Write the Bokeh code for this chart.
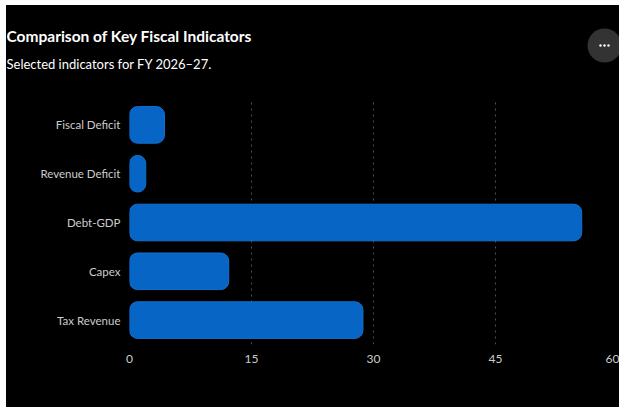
from bokeh.plotting import figure
from bokeh.models import ColumnDataSource, Range1d, FactorRange, FixedTicker
from bokeh.layouts import column
from bokeh.core.properties import value
from bokeh.embed import file_html
from bokeh.resources import INLINE

indicators = ["Fiscal Deficit", "Revenue Deficit", "Debt-GDP", "Capex", "Tax Revenue"]
values = [4.3, 2.0, 55.6, 12.2, 28.7]
x_ticks = [0, 15, 30, 45, 60]

title_text = "Comparison of Key Fiscal Indicators"
subtitle_text = "Selected indicators for FY 2026\u201327."

FONT = "Lato"

# ---- header (title, subtitle, menu button) ----
h = figure(width=613, height=95, x_range=Range1d(0, 613), y_range=Range1d(95, 0),
           output_backend="svg", toolbar_location=None, title=None, min_border=0)
h.frame_align = False
h.background_fill_color = "#000000"
h.border_fill_color = "#000000"
h.outline_line_color = None
h.axis.visible = False
h.grid.visible = False
h.text(x=[0], y=[30], text=[title_text], text_color="#ffffff", text_font=value(FONT),
       text_font_style="bold", text_font_size="15.5px", text_baseline="middle", text_align="left")
h.text(x=[0], y=[58], text=[subtitle_text], text_color="#ffffff", text_font=value(FONT),
       text_font_size="13px", text_baseline="middle", text_align="left")
h.scatter(x=[598], y=[40], size=34, marker="circle", fill_color="#333333", line_color=None)
h.scatter(x=[594, 598, 602], y=[40, 40, 40], size=2.4, marker="circle",
          fill_color="#ffffff", line_color=None)

# ---- main chart ----
source = ColumnDataSource(data=dict(indicator=indicators, value=values))

p = figure(
    width=613, height=307,
    y_range=FactorRange(*list(reversed(indicators))),
    x_range=Range1d(0, 60),
    output_backend="svg", toolbar_location=None, title=None,
    min_border_left=123, min_border_right=2, min_border_top=0, min_border_bottom=63,
)
p.frame_align = False
p.background_fill_color = "#000000"
p.border_fill_color = "#000000"
p.outline_line_color = None

p.hbar(y="indicator", right="value", left=0, height=0.75, source=source,
       fill_color="#0765C6", line_color="#1470d0", line_width=1, border_radius=8)

p.xgrid.ticker = FixedTicker(ticks=x_ticks)
p.xgrid.grid_line_color = "#505050"
p.xgrid.grid_line_dash = "2 4"
p.ygrid.grid_line_color = None

p.xaxis.ticker = FixedTicker(ticks=x_ticks)
p.xaxis.axis_line_color = None
p.xaxis.major_tick_line_color = None
p.xaxis.minor_tick_line_color = None
p.xaxis.major_tick_out = 0
p.xaxis.major_tick_in = 0
p.xaxis.major_label_text_color = "#cccccc"
p.xaxis.major_label_text_font = FONT
p.xaxis.major_label_text_font_size = "12px"
p.xaxis.major_label_standoff = 10

p.yaxis.axis_line_color = None
p.yaxis.major_tick_line_color = None
p.yaxis.minor_tick_line_color = None
p.yaxis.major_tick_out = 0
p.yaxis.major_tick_in = 0
p.yaxis.major_label_text_color = "#cccccc"
p.yaxis.major_label_text_font = FONT
p.yaxis.major_label_text_font_size = "11.5px"
p.yaxis.major_label_standoff = 9

layout = column(h, p, spacing=0)
layout.margin = (5, 0, 0, 6)
layout.styles = {"background-color": "#000000"}
open("out.html", "w").write(file_html(layout, INLINE))
